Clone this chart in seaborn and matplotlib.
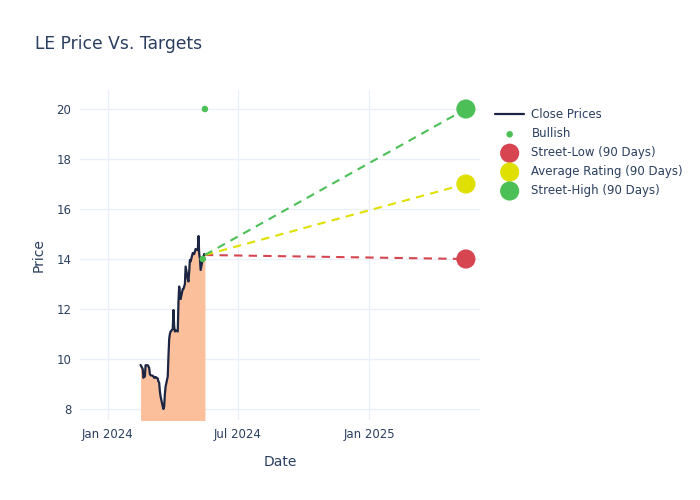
import numpy as np
import pandas as pd
import matplotlib
matplotlib.use("Agg")
import matplotlib.pyplot as plt
import matplotlib.dates as mdates
import seaborn as sns

sns.set_style("white")
plt.rcParams["font.family"] = ["DejaVu Sans"]

# Close prices (business days, Feb 16 - May 16 2024)
dates = pd.bdate_range("2024-02-16", "2024-05-16")
close = [
    9.76, 9.6, 9.25, 9.3, 9.3, 9.75, 9.75, 9.7, 9.65, 9.4,
    9.35, 9.33, 9.3, 9.25, 9.25, 9.28, 9.22, 9.1, 9.05, 8.7,
    8.5, 8.1, 8.0, 8.1, 8.6, 8.9, 9.3, 10.1, 10.8, 11.0, 11.1,
    11.2, 11.96, 11.3, 11.1, 11.15, 11.1, 12.3, 12.9, 12.6, 12.4,
    12.8, 12.8, 12.9, 13.0, 13.7, 13.2, 13.1, 13.5, 13.96, 13.9,
    14.24, 14.2,
    14.2, 14.3, 14.4, 14.35, 14.92, 14.2, 14.0, 13.56, 14.0, 14.1,
    14.2, 14.16,
]
prices = pd.DataFrame({"Date": dates, "Close": close})

bullish_dates = pd.to_datetime(["2024-05-16", "2024-05-13"])
bullish_vals = [20, 14]

target_date = pd.Timestamp("2025-05-16")
target_names = ["Street-Low (90 Days)", "Average Rating (90 Days)", "Street-High (90 Days)"]
target_vals = [14, 17, 20]
target_colors = ["#d64550", "#dfe000", "#4cbf56"]

fig = plt.figure(figsize=(7, 5), dpi=100)
ax = fig.add_axes([0.114, 0.16, 0.572, 0.66])

ax.fill_between(prices["Date"], prices["Close"], 0, color="#fcbf9b", lw=0)
sns.lineplot(data=prices, x="Date", y="Close", ax=ax, color="#1c2541",
             lw=1.6, label="Close Prices")
sns.scatterplot(x=bullish_dates, y=bullish_vals, ax=ax, color="#4cbf56", s=22,
                edgecolor="none", label="Bullish", zorder=5)

last_date = prices["Date"].iloc[-1]
last_close = prices["Close"].iloc[-1]
for name, val, col in zip(target_names, target_vals, target_colors):
    ax.plot([last_date, target_date], [last_close, val], ls=(0, (4, 3)),
            color=col, lw=1.5)
    sns.scatterplot(x=[target_date], y=[val], ax=ax, color=col, s=190,
                    edgecolor="none", label=name, zorder=6)

ax.set_xlim(pd.Timestamp("2023-11-23"), pd.Timestamp("2025-06-05"))
ax.set_ylim(7.56, 20.76)
ax.set_yticks([8, 10, 12, 14, 16, 18, 20])
ax.set_xticks(pd.to_datetime(["2024-01-01", "2024-07-01", "2025-01-01"]))
ax.xaxis.set_major_formatter(mdates.DateFormatter("%b %Y"))

txt = "#2a3f5f"
ax.grid(True, color="#ebf0f8", lw=1)
ax.set_axisbelow(True)
for s in ax.spines.values():
    s.set_visible(False)
ax.tick_params(colors=txt, labelsize=8.5, length=0, pad=6)
ax.set_xlabel("Date", color=txt, fontsize=10, labelpad=10)
ax.set_ylabel("Price", color=txt, fontsize=10, labelpad=8)
fig.text(0.05, 0.912, "LE Price Vs. Targets", color=txt, fontsize=12.3, va="center")

leg = ax.legend(loc="upper left", bbox_to_anchor=(0.707, 0.783),
                bbox_transform=fig.transFigure, frameon=False,
                fontsize=8.5, labelspacing=0.5, handlelength=2.5,
                handletextpad=0.6, borderaxespad=0.0, borderpad=0.0)
for t in leg.get_texts():
    t.set_color(txt)

fig.savefig("out.png", dpi=100)
